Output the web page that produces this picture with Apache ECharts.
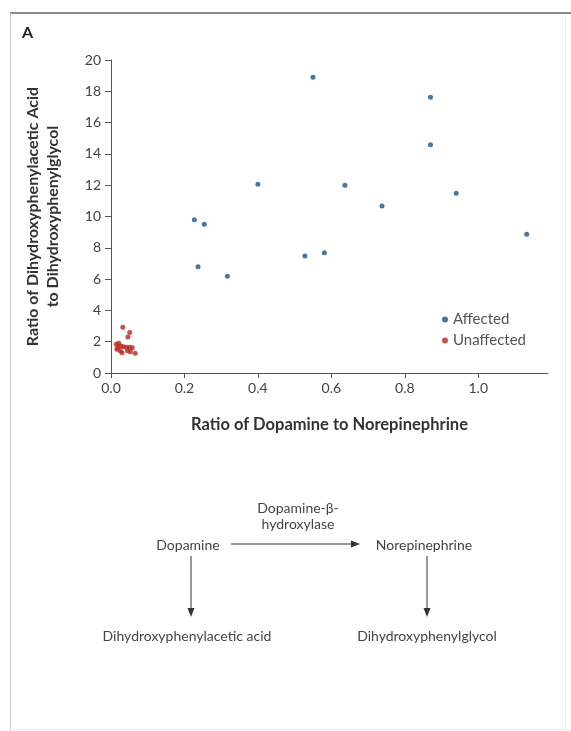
<!DOCTYPE html>
<html><head><meta charset="utf-8">
<script src="https://cdn.jsdelivr.net/npm/echarts@6/dist/echarts.min.js"></script>
<style>html,body{margin:0;padding:0;background:#fff}#c{width:571px;height:731px}</style>
</head><body><div id="c"></div>
<script>
const xTicks = [0, 0.2, 0.4, 0.6, 0.8, 1.0];
const affectedX = [0.227, 0.254, 0.237, 0.317, 0.400, 0.550, 0.528, 0.581, 0.637, 0.738, 0.870, 0.870, 0.940, 1.132];
const affectedY = [9.80, 9.50, 6.79, 6.18, 12.06, 18.90, 7.48, 7.69, 11.99, 10.67, 17.62, 14.59, 11.48, 8.86];
const unaffectedX = [0.032, 0.051, 0.046, 0.014, 0.021, 0.027, 0.034, 0.042, 0.051, 0.058, 0.016, 0.025, 0.030, 0.045, 0.053, 0.066, 0.019];
const unaffectedY = [2.92, 2.58, 2.30, 1.83, 1.90, 1.73, 1.68, 1.64, 1.64, 1.62, 1.51, 1.42, 1.30, 1.42, 1.36, 1.26, 1.64];

const FONT = 'Lato';
const chart = echarts.init(document.getElementById('c'), null, {renderer: 'canvas'});
const zip = (a, b) => a.map((v, i) => [v, b[i]]);

function arrowGraphics(x1, y1, x2, y2) {
  const ang = Math.atan2(y2 - y1, x2 - x1);
  const L = 9, W = 3.5;
  const bx = x2 - L * Math.cos(ang), by = y2 - L * Math.sin(ang);
  const px = -Math.sin(ang) * W, py = Math.cos(ang) * W;
  return [
    {type: 'line', shape: {x1, y1, x2: bx, y2: by}, style: {stroke: '#333', lineWidth: 1}},
    {type: 'polygon', shape: {points: [[x2, y2], [bx + px, by + py], [bx - px, by - py]]}, style: {fill: '#333'}}
  ];
}
const txt = (x, y, t) => ({type: 'text', x, y, style: {text: t, font: '14px ' + FONT, fill: '#444', align: 'center', verticalAlign: 'middle'}});

chart.setOption({
  backgroundColor: '#fff',
  animation: false,
  textStyle: {fontFamily: FONT},
  grid: {left: 111, top: 60, right: 23, bottom: 358},
  legend: {
    orient: 'vertical', left: 437, top: 307, itemWidth: 6, itemHeight: 6, itemGap: 6,
    icon: 'circle',
    textStyle: {fontSize: 15, color: '#555', fontFamily: FONT},
    data: ['Affected', 'Unaffected']
  },
  xAxis: {
    type: 'value', min: 0, max: 1.19, interval: 0.2,
    name: 'Ratio of Dopamine to Norepinephrine', nameLocation: 'middle', nameGap: 43,
    nameTextStyle: {fontSize: 16.5, fontWeight: 'bold', color: '#333', fontFamily: FONT},
    axisLine: {show: true, lineStyle: {color: '#555', width: 1}},
    axisTick: {show: true, length: 5, lineStyle: {color: '#555'}, customValues: xTicks},
    axisLabel: {fontSize: 14, color: '#444', margin: 8, customValues: xTicks, formatter: v => v.toFixed(1)},
    splitLine: {show: false}
  },
  yAxis: {
    type: 'value', min: 0, max: 20, interval: 2,
    name: 'Ratio of Dihydroxyphenylacetic Acid\nto Dihydroxyphenylglycol', nameLocation: 'middle', nameGap: 48,
    nameTextStyle: {fontSize: 16, fontWeight: 'bold', color: '#333', fontFamily: FONT, lineHeight: 20},
    axisLine: {show: true, lineStyle: {color: '#555', width: 1}},
    axisTick: {show: true, length: 6, lineStyle: {color: '#555'}},
    axisLabel: {fontSize: 14, color: '#444', margin: 10},
    splitLine: {show: false}
  },
  series: [
    {name: 'Affected', type: 'scatter', symbolSize: 5, itemStyle: {color: '#1a5487'}, data: zip(affectedX, affectedY)},
    {name: 'Unaffected', type: 'scatter', symbolSize: 5, itemStyle: {color: '#b5281e'}, data: zip(unaffectedX, unaffectedY)}
  ],
  graphic: [
    {type: 'line', shape: {x1: 10, y1: 13, x2: 571, y2: 13}, style: {stroke: '#8a8a8a', lineWidth: 2}},
    {type: 'line', shape: {x1: 10.5, y1: 13, x2: 10.5, y2: 731}, style: {stroke: '#c8c8c8', lineWidth: 1}},
    {type: 'line', shape: {x1: 10, y1: 729.5, x2: 571, y2: 729.5}, style: {stroke: '#ececec', lineWidth: 1}},
    {type: 'line', shape: {x1: 565.5, y1: 14, x2: 565.5, y2: 731}, style: {stroke: '#f0f0f0', lineWidth: 1}},
    {type: 'text', x: 22, y: 33, style: {text: 'A', font: 'bold 16px ' + FONT, fill: '#222', verticalAlign: 'middle'}},
    txt(298, 508, 'Dopamine-β-'),
    txt(298, 524, 'hydroxylase'),
    txt(188, 545, 'Dopamine'),
    txt(424, 545, 'Norepinephrine'),
    txt(187, 636, 'Dihydroxyphenylacetic acid'),
    txt(427, 636, 'Dihydroxyphenylglycol'),
    ...arrowGraphics(231, 544, 360, 544),
    ...arrowGraphics(191, 556, 191, 617),
    ...arrowGraphics(427, 556, 427, 617)
  ]
});
</script></body></html>
